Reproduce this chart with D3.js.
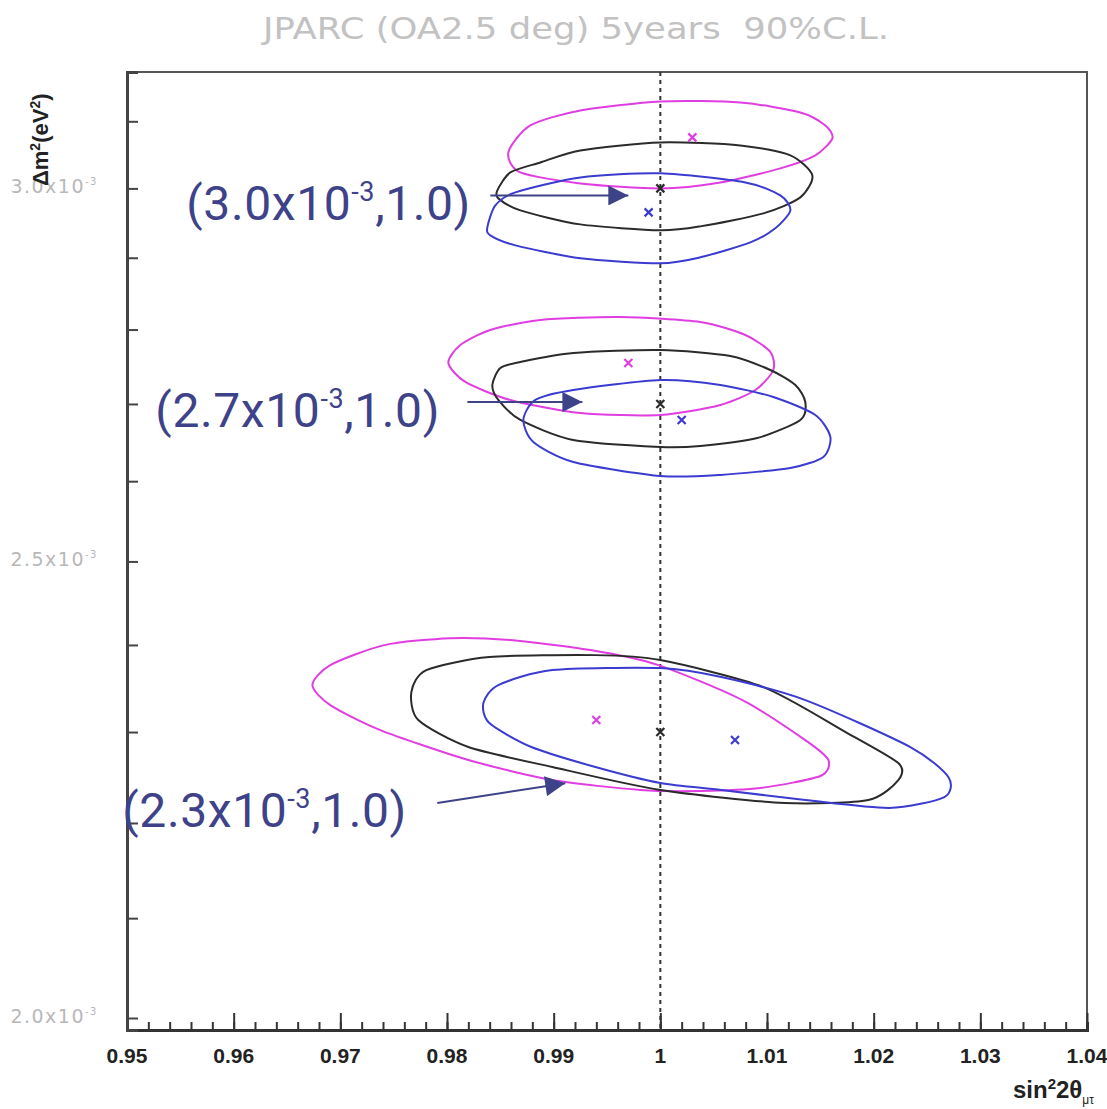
<!DOCTYPE html>
<html>
<head>
<meta charset="utf-8">
<script src="https://cdn.jsdelivr.net/npm/d3@7"></script>
<style>
  body { margin: 0; background: #fff; }
  svg { display: block; }
</style>
</head>
<body>
<div id="chart"></div>
<script>
// JPARC 90% C.L. contours, dm2 in units of 1e-3 eV^2

// axes
const xTickValues = [0.95, 0.96, 0.97, 0.98, 0.99, 1.0, 1.01, 1.02, 1.03, 1.04];
const xTickLabels = ['0.95', '0.96', '0.97', '0.98', '0.99', '1', '1.01', '1.02', '1.03', '1.04'];
const yTickValues = [2.0, 2.1, 2.2, 2.3, 2.4, 2.5, 2.6, 2.7, 2.8, 2.9, 3.0, 3.1];
const yLabelValues = [2.0, 2.5, 3.0];
const yLabelTexts = ['2.0', '2.5', '3.0'];

// true point dm2 = 3.0e-3
const magenta30 = [[0.98575,3.0532],[0.98781,3.0937],[0.9925,3.1165],[1.0,3.1302],[1.0075,3.1287],[1.01313,3.1134],[1.01547,3.0937],[1.01613,3.0742],[1.01453,3.0488],[1.01125,3.0295],[1.00563,3.0088],[1.0,3.0],[0.9925,3.0073],[0.98688,3.0235]];
const black30 = [[0.98472,2.9971],[0.98594,3.0235],[0.98875,3.0383],[0.9925,3.0562],[1.0,3.0682],[1.0075,3.0637],[1.01219,3.0488],[1.01425,3.0191],[1.01313,2.9868],[1.00966,2.9636],[1.00375,2.9448],[1.0,2.9391],[0.9925,2.9477],[0.98688,2.9679],[0.98481,2.9854]];
const blue30 = [[0.98378,2.9434],[0.98453,2.9752],[0.98641,2.9941],[0.9925,3.0161],[1.0,3.0221],[1.00797,3.0088],[1.01125,2.9897],[1.01219,2.9679],[1.01078,2.9420],[1.00844,2.9219],[1.00375,2.9006],[1.0,2.8921],[0.9925,2.8992],[0.98641,2.9176],[0.98406,2.9319]];

// true point dm2 = 2.7e-3
const magenta27 = [[0.98013,2.7546],[0.98125,2.7789],[0.98406,2.7994],[0.98875,2.8131],[0.99625,2.8172],[1.00375,2.8103],[1.00797,2.7925],[1.01031,2.7695],[1.01059,2.7452],[1.00891,2.7185],[1.00563,2.6987],[1.0,2.6855],[0.9925,2.6881],[0.98594,2.7053],[0.98172,2.7292]];
const black27 = [[0.98425,2.7252],[0.985,2.7479],[0.98688,2.7560],[0.99184,2.7681],[1.0,2.7722],[1.00656,2.7641],[1.01031,2.7452],[1.01266,2.7252],[1.01359,2.7026],[1.01313,2.6790],[1.00909,2.6555],[1.00375,2.6452],[1.0,2.6439],[0.99184,2.6529],[0.98688,2.6790],[0.98481,2.7053]];
const blue27 = [[0.98716,2.6790],[0.98828,2.7053],[0.99184,2.7185],[1.0,2.7318],[1.00563,2.7252],[1.01059,2.7092],[1.01453,2.6855],[1.01594,2.6568],[1.01528,2.6310],[1.01219,2.6169],[1.00563,2.6080],[1.0,2.6067],[0.99184,2.6246],[0.98809,2.6504]];

// true point dm2 = 2.3e-3
const magenta23 = [[0.96738,2.3534],[0.96906,2.3765],[0.97413,2.3998],[0.98031,2.4080],[0.98594,2.4057],[0.99344,2.3940],[0.99981,2.3765],[1.00769,2.3362],[1.01359,2.2910],[1.01575,2.2688],[1.015,2.2511],[1.00938,2.2379],[1.00375,2.2347],[0.99813,2.2358],[0.98988,2.2467],[0.982,2.2688],[0.97375,2.3022],[0.96906,2.3305]];
const black23 = [[0.97666,2.3454],[0.97806,2.3707],[0.98397,2.3858],[0.99391,2.3881],[1.0,2.3823],[1.00966,2.3511],[1.01753,2.2989],[1.02231,2.2654],[1.02231,2.2467],[1.0195,2.2249],[1.01163,2.2216],[1.0,2.2358],[0.98988,2.2610],[0.982,2.2832],[0.97731,2.3135]];
const blue23 = [[0.98341,2.3328],[0.98481,2.3534],[0.98988,2.3707],[1.0,2.3730],[1.00572,2.3626],[1.01359,2.3362],[1.02344,2.2832],[1.027,2.2500],[1.02663,2.2281],[1.02147,2.2162],[1.01359,2.2249],[1.00572,2.2358],[1.0,2.2434],[0.99391,2.2610],[0.98791,2.2832],[0.98397,2.3101]];

// best fit points [sin2, dm2]
const bestMagenta = [[1.003,3.0757],[0.997,2.7546],[0.994,2.3135]];
const bestBlack = [[1.0,3.0],[1.0,2.7],[1.0,2.3]];
const bestBlue = [[0.9989,2.965],[1.002,2.679],[1.007,2.291]];

// annotation texts and their arrows (data coords)
const annoMain = ['(3.0x10', '(2.7x10', '(2.3x10'];
const annoRest = [',1.0)', ',1.0)', ',1.0)'];
const annoAt = [[0.95556,2.9535],[0.95266,2.6698],[0.94956,2.1957]];
const arrowFrom = [[0.98406,2.9897],[0.98191,2.7026],[0.97909,2.2216]];
const arrowTo = [[0.997,2.9897],[0.99269,2.7026],[0.99109,2.2432]];

const W = 1107, H = 1109;
const colMagenta = '#e03ee0', colBlack = '#2b2b2b', colBlue = '#3b3bd0', colAnno = '#3e4389';

const svg = d3.select('#chart').append('svg')
  .attr('width', W)
  .attr('height', H);

const x = d3.scaleLinear().domain([0.95, 1.04]).range([127, 1087]);
const y = d3.scaleLog().domain([1.9883, 3.1756]).range([1030, 72]);

// title
svg.append('text')
  .attr('x', 576).attr('y', 39)
  .attr('text-anchor', 'middle')
  .attr('font-family', 'DejaVu Sans')
  .attr('font-size', 30)
  .attr('fill', '#c2c2c2')
  .attr('textLength', 626)
  .attr('lengthAdjust', 'spacingAndGlyphs')
  .style('white-space', 'pre')
  .text('JPARC (OA2.5 deg) 5years  90%C.L.');

// frame
svg.append('rect')
  .attr('x', x(0.95)).attr('y', y.range()[1])
  .attr('width', x(1.04) - x(0.95))
  .attr('height', y.range()[0] - y.range()[1])
  .attr('fill', 'none')
  .attr('stroke', '#555')
  .attr('stroke-width', 2);

// bottom axis
const xAxis = d3.axisTop(x)
  .tickValues(d3.range(0, 46).map(i => 0.95 + i * 0.002))
  .tickSize(8)
  .tickFormat('');
svg.append('g')
  .attr('transform', `translate(0,${y.range()[0]})`)
  .call(xAxis)
  .call(g => g.select('.domain').attr('stroke', '#333').attr('stroke-width', 3))
  .call(g => g.selectAll('.tick line').attr('stroke', '#333').attr('stroke-width', 2));

svg.append('g')
  .attr('transform', `translate(0,${y.range()[0]})`)
  .call(d3.axisTop(x).tickValues(xTickValues).tickSize(17).tickFormat(''))
  .call(g => g.select('.domain').remove())
  .call(g => g.selectAll('.tick line').attr('stroke', '#333').attr('stroke-width', 2));

svg.selectAll('.xlab')
  .data(xTickValues)
  .enter().append('text')
  .attr('class', 'xlab')
  .attr('x', d => x(d))
  .attr('y', 1063)
  .attr('text-anchor', 'middle')
  .attr('font-family', 'Liberation Sans, Arial')
  .attr('font-weight', 'bold')
  .attr('font-size', 21)
  .attr('fill', '#222')
  .text((d, i) => xTickLabels[i]);

// x title sin^2 2theta_mu tau
const xt = svg.append('text')
  .attr('x', 1094).attr('y', 1098)
  .attr('text-anchor', 'end')
  .attr('font-family', 'Liberation Sans, Arial')
  .attr('font-weight', 'bold')
  .attr('font-size', 24)
  .attr('fill', '#222');
xt.append('tspan').text('sin');
xt.append('tspan').attr('dy', -9).attr('font-size', 15).text('2');
xt.append('tspan').attr('dy', 9).text('2θ');
xt.append('tspan').attr('dy', 6).attr('font-size', 12).attr('font-weight', 'normal').text('μτ');

// left axis
svg.append('g')
  .attr('transform', `translate(${x(0.95)},0)`)
  .call(d3.axisRight(y).tickValues(yTickValues).tickSize(11).tickFormat(''))
  .call(g => g.select('.domain').attr('stroke', '#444').attr('stroke-width', 3))
  .call(g => g.selectAll('.tick line').attr('stroke', '#444').attr('stroke-width', 2));

const ylab = svg.selectAll('.ylab')
  .data(yLabelValues)
  .enter().append('text')
  .attr('class', 'ylab')
  .attr('x', 98)
  .attr('y', d => y(d) + 5)
  .attr('text-anchor', 'end')
  .attr('font-family', 'DejaVu Sans')
  .attr('font-size', 19)
  .attr('letter-spacing', 1.5)
  .attr('fill', '#b8b8b8');
ylab.append('tspan').text((d, i) => yLabelTexts[i] + 'x10');
ylab.append('tspan').attr('dy', -8).attr('font-size', 10).text('-3');

// y title
const yt = svg.append('text')
  .attr('transform', 'translate(48,186) rotate(-90)')
  .attr('font-family', 'Liberation Sans, Arial')
  .attr('font-weight', 'bold')
  .attr('font-size', 22)
  .attr('fill', '#222');
yt.append('tspan').text('Δm');
yt.append('tspan').attr('dy', -8).attr('font-size', 14).text('2');
yt.append('tspan').attr('dy', 8).text('(eV');
yt.append('tspan').attr('dy', -8).attr('font-size', 14).text('2');
yt.append('tspan').attr('dy', 8).text(')');

// dotted line at sin2 = 1
svg.append('line')
  .attr('x1', x(1)).attr('x2', x(1))
  .attr('y1', y.range()[1]).attr('y2', y.range()[0])
  .attr('stroke', '#333')
  .attr('stroke-width', 2)
  .attr('stroke-dasharray', '4,4');

// contours
const contour = d3.line()
  .x(d => x(d[0]))
  .y(d => y(d[1]))
  .curve(d3.curveCardinalClosed.tension(0.25));

const contours = [
  {pts: magenta30, c: colMagenta}, {pts: black30, c: colBlack}, {pts: blue30, c: colBlue},
  {pts: magenta27, c: colMagenta}, {pts: black27, c: colBlack}, {pts: blue27, c: colBlue},
  {pts: magenta23, c: colMagenta}, {pts: black23, c: colBlack}, {pts: blue23, c: colBlue}
];

svg.selectAll('.contour')
  .data(contours)
  .enter().append('path')
  .attr('class', 'contour')
  .attr('d', d => contour(d.pts))
  .attr('fill', 'none')
  .attr('stroke', d => d.c)
  .attr('stroke-width', 2);

// best fit markers
const cross = d => {
  const cx = x(d[0]), cy = y(d[1]), s = 4;
  return `M${cx - s},${cy - s}L${cx + s},${cy + s}M${cx - s},${cy + s}L${cx + s},${cy - s}`;
};
[[bestMagenta, colMagenta], [bestBlack, colBlack], [bestBlue, colBlue]].forEach(([pts, c]) => {
  svg.append('g').selectAll('path')
    .data(pts)
    .enter().append('path')
    .attr('d', cross)
    .attr('stroke', c)
    .attr('stroke-width', 2.2)
    .attr('fill', 'none');
});

// annotations
svg.append('defs').append('marker')
  .attr('id', 'head')
  .attr('viewBox', '0 0 10 10')
  .attr('refX', 10).attr('refY', 5)
  .attr('markerWidth', 24).attr('markerHeight', 20)
  .attr('markerUnits', 'userSpaceOnUse')
  .attr('orient', 'auto')
  .append('path')
  .attr('d', 'M0,0L10,5L0,10Z')
  .attr('fill', colAnno);

svg.selectAll('.arrow')
  .data(arrowFrom)
  .enter().append('line')
  .attr('class', 'arrow')
  .attr('x1', d => x(d[0])).attr('y1', d => y(d[1]))
  .attr('x2', (d, i) => x(arrowTo[i][0])).attr('y2', (d, i) => y(arrowTo[i][1]))
  .attr('stroke', colAnno)
  .attr('stroke-width', 2)
  .attr('marker-end', 'url(#head)');

const anno = svg.selectAll('.anno')
  .data(annoAt)
  .enter().append('text')
  .attr('class', 'anno')
  .attr('x', d => x(d[0]))
  .attr('y', d => y(d[1]))
  .attr('font-family', 'Roboto')
  .attr('font-size', 48)
  .attr('letter-spacing', 0.6)
  .attr('fill', colAnno);
anno.append('tspan').text((d, i) => annoMain[i]);
anno.append('tspan').attr('dy', -19).attr('font-size', 27).text('-3');
anno.append('tspan').attr('dy', 19).text((d, i) => annoRest[i]);
</script>
</body>
</html>
